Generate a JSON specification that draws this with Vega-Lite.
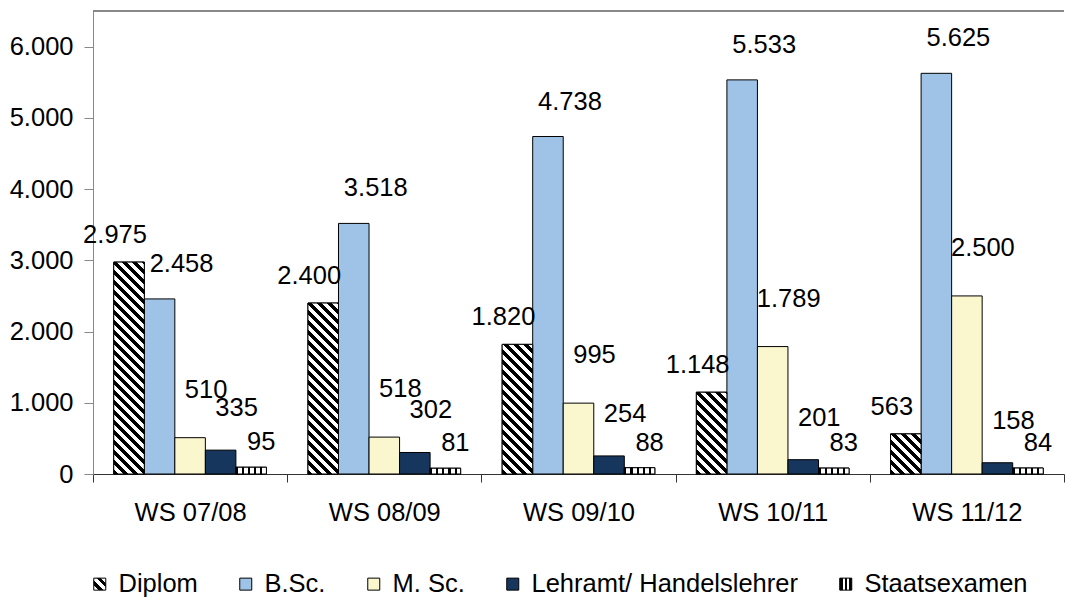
{
  "$schema": "https://vega.github.io/schema/vega-lite/v6.json",
  "width": 971,
  "height": 463,
  "autosize": "none",
  "padding": {"left": 93, "top": 11, "right": 1, "bottom": 125},
  "background": "white",
  "config": {
    "locale": {"number": {"decimal": ",", "thousands": ".", "grouping": [3], "currency": ["", " €"]}},
    "view": {"stroke": null},
    "font": "Liberation Sans",
    "axis": {"labelFont": "Liberation Sans", "labelFontSize": 25.5, "labelColor": "#000", "grid": false, "title": null}
  },
  "params": [
    {"name": "hatch", "value": [
      {"offset": 0, "color": "#000"}, {"offset": 0.02, "color": "#000"}, {"offset": 0.02, "color": "#fff"}, {"offset": 0.04, "color": "#fff"},
      {"offset": 0.04, "color": "#000"}, {"offset": 0.06, "color": "#000"}, {"offset": 0.06, "color": "#fff"}, {"offset": 0.08, "color": "#fff"},
      {"offset": 0.08, "color": "#000"}, {"offset": 0.10, "color": "#000"}, {"offset": 0.10, "color": "#fff"}, {"offset": 0.12, "color": "#fff"},
      {"offset": 0.12, "color": "#000"}, {"offset": 0.14, "color": "#000"}, {"offset": 0.14, "color": "#fff"}, {"offset": 0.16, "color": "#fff"},
      {"offset": 0.16, "color": "#000"}, {"offset": 0.18, "color": "#000"}, {"offset": 0.18, "color": "#fff"}, {"offset": 0.20, "color": "#fff"},
      {"offset": 0.20, "color": "#000"}, {"offset": 0.22, "color": "#000"}, {"offset": 0.22, "color": "#fff"}, {"offset": 0.24, "color": "#fff"},
      {"offset": 0.24, "color": "#000"}, {"offset": 0.26, "color": "#000"}, {"offset": 0.26, "color": "#fff"}, {"offset": 0.28, "color": "#fff"},
      {"offset": 0.28, "color": "#000"}, {"offset": 0.30, "color": "#000"}, {"offset": 0.30, "color": "#fff"}, {"offset": 0.32, "color": "#fff"},
      {"offset": 0.32, "color": "#000"}, {"offset": 0.34, "color": "#000"}, {"offset": 0.34, "color": "#fff"}, {"offset": 0.36, "color": "#fff"},
      {"offset": 0.36, "color": "#000"}, {"offset": 0.38, "color": "#000"}, {"offset": 0.38, "color": "#fff"}, {"offset": 0.40, "color": "#fff"},
      {"offset": 0.40, "color": "#000"}, {"offset": 0.42, "color": "#000"}, {"offset": 0.42, "color": "#fff"}, {"offset": 0.44, "color": "#fff"},
      {"offset": 0.44, "color": "#000"}, {"offset": 0.46, "color": "#000"}, {"offset": 0.46, "color": "#fff"}, {"offset": 0.48, "color": "#fff"},
      {"offset": 0.48, "color": "#000"}, {"offset": 0.50, "color": "#000"}, {"offset": 0.50, "color": "#fff"}, {"offset": 0.52, "color": "#fff"},
      {"offset": 0.52, "color": "#000"}, {"offset": 0.54, "color": "#000"}, {"offset": 0.54, "color": "#fff"}, {"offset": 0.56, "color": "#fff"},
      {"offset": 0.56, "color": "#000"}, {"offset": 0.58, "color": "#000"}, {"offset": 0.58, "color": "#fff"}, {"offset": 0.60, "color": "#fff"},
      {"offset": 0.60, "color": "#000"}, {"offset": 0.62, "color": "#000"}, {"offset": 0.62, "color": "#fff"}, {"offset": 0.64, "color": "#fff"},
      {"offset": 0.64, "color": "#000"}, {"offset": 0.66, "color": "#000"}, {"offset": 0.66, "color": "#fff"}, {"offset": 0.68, "color": "#fff"},
      {"offset": 0.68, "color": "#000"}, {"offset": 0.70, "color": "#000"}, {"offset": 0.70, "color": "#fff"}, {"offset": 0.72, "color": "#fff"},
      {"offset": 0.72, "color": "#000"}, {"offset": 0.74, "color": "#000"}, {"offset": 0.74, "color": "#fff"}, {"offset": 0.76, "color": "#fff"},
      {"offset": 0.76, "color": "#000"}, {"offset": 0.78, "color": "#000"}, {"offset": 0.78, "color": "#fff"}, {"offset": 0.80, "color": "#fff"},
      {"offset": 0.80, "color": "#000"}, {"offset": 0.82, "color": "#000"}, {"offset": 0.82, "color": "#fff"}, {"offset": 0.84, "color": "#fff"},
      {"offset": 0.84, "color": "#000"}, {"offset": 0.86, "color": "#000"}, {"offset": 0.86, "color": "#fff"}, {"offset": 0.88, "color": "#fff"},
      {"offset": 0.88, "color": "#000"}, {"offset": 0.90, "color": "#000"}, {"offset": 0.90, "color": "#fff"}, {"offset": 0.92, "color": "#fff"},
      {"offset": 0.92, "color": "#000"}, {"offset": 0.94, "color": "#000"}, {"offset": 0.94, "color": "#fff"}, {"offset": 0.96, "color": "#fff"},
      {"offset": 0.96, "color": "#000"}, {"offset": 0.98, "color": "#000"}, {"offset": 0.98, "color": "#fff"}, {"offset": 1, "color": "#fff"}
    ]},
    {"name": "hatchLegend", "value": [
      {"offset": 0, "color": "#fff"}, {"offset": 0.2, "color": "#fff"}, {"offset": 0.2, "color": "#000"}, {"offset": 0.4, "color": "#000"},
      {"offset": 0.4, "color": "#fff"}, {"offset": 0.6, "color": "#fff"}, {"offset": 0.6, "color": "#000"}, {"offset": 0.8, "color": "#000"},
      {"offset": 0.8, "color": "#fff"}, {"offset": 1, "color": "#fff"}
    ]},
    {"name": "stripeLegend", "value": [
      {"offset": 0, "color": "#000"}, {"offset": 0.25, "color": "#000"}, {"offset": 0.25, "color": "#fff"}, {"offset": 0.42, "color": "#fff"},
      {"offset": 0.42, "color": "#000"}, {"offset": 0.58, "color": "#000"}, {"offset": 0.58, "color": "#fff"}, {"offset": 0.75, "color": "#fff"},
      {"offset": 0.75, "color": "#000"}, {"offset": 1, "color": "#000"}
    ]}
  ],
  "data": {"values": [
    {"ws": "WS 07/08", "type": "Diplom", "n": 2975},
    {"ws": "WS 07/08", "type": "B.Sc.", "n": 2458},
    {"ws": "WS 07/08", "type": "M. Sc.", "n": 510},
    {"ws": "WS 07/08", "type": "Lehramt/ Handelslehrer", "n": 335},
    {"ws": "WS 07/08", "type": "Staatsexamen", "n": 95},
    {"ws": "WS 08/09", "type": "Diplom", "n": 2400},
    {"ws": "WS 08/09", "type": "B.Sc.", "n": 3518},
    {"ws": "WS 08/09", "type": "M. Sc.", "n": 518},
    {"ws": "WS 08/09", "type": "Lehramt/ Handelslehrer", "n": 302},
    {"ws": "WS 08/09", "type": "Staatsexamen", "n": 81},
    {"ws": "WS 09/10", "type": "Diplom", "n": 1820},
    {"ws": "WS 09/10", "type": "B.Sc.", "n": 4738},
    {"ws": "WS 09/10", "type": "M. Sc.", "n": 995},
    {"ws": "WS 09/10", "type": "Lehramt/ Handelslehrer", "n": 254},
    {"ws": "WS 09/10", "type": "Staatsexamen", "n": 88},
    {"ws": "WS 10/11", "type": "Diplom", "n": 1148},
    {"ws": "WS 10/11", "type": "B.Sc.", "n": 5533},
    {"ws": "WS 10/11", "type": "M. Sc.", "n": 1789},
    {"ws": "WS 10/11", "type": "Lehramt/ Handelslehrer", "n": 201},
    {"ws": "WS 10/11", "type": "Staatsexamen", "n": 83},
    {"ws": "WS 11/12", "type": "Diplom", "n": 563},
    {"ws": "WS 11/12", "type": "B.Sc.", "n": 5625},
    {"ws": "WS 11/12", "type": "M. Sc.", "n": 2500},
    {"ws": "WS 11/12", "type": "Lehramt/ Handelslehrer", "n": 158},
    {"ws": "WS 11/12", "type": "Staatsexamen", "n": 84}
  ]},
  "layer": [
    {
      "encoding": {
        "x": {"field": "ws", "type": "nominal", "sort": null,
              "scale": {"paddingInner": 0, "paddingOuter": 0},
              "axis": {"tickBand": "extent", "tickSize": 8, "labelPadding": 18, "domainColor": "#333", "tickColor": "#333", "labelAngle": 0, "title": null}},
        "xOffset": {"field": "type", "type": "nominal", "sort": null,
              "scale": {"domain": ["Diplom", "B.Sc.", "M. Sc.", "Lehramt/ Handelslehrer", "Staatsexamen"], "paddingInner": 0, "paddingOuter": 0.68}},
        "y": {"field": "n", "type": "quantitative", "stack": null,
              "scale": {"domain": [0, 6500], "nice": false},
              "axis": {"values": [0, 1000, 2000, 3000, 4000, 5000, 6000], "format": ",.0f", "tickSize": 9, "labelPadding": 11, "domainColor": "#888", "tickColor": "#888", "title": null}}
      },
      "layer": [
        {
          "mark": {"type": "bar", "stroke": "#000", "strokeWidth": 1},
          "encoding": {
            "color": {"field": "type", "type": "nominal", "sort": null,
              "scale": {"domain": ["Diplom", "B.Sc.", "M. Sc.", "Lehramt/ Handelslehrer", "Staatsexamen"],
                        "range": [
                          {"expr": "{gradient: 'linear', x1: 0, y1: 1, x2: 1, y2: 0, stops: hatchLegend}"},
                          "#9FC3E7", "#FAF6CE", "#17365D",
                          {"expr": "{gradient: 'linear', x1: 0, y1: 0, x2: 1, y2: 0, stops: stripeLegend}"}
                        ]},
              "legend": {
                "orient": "none", "legendX": -6, "legendY": 560, "direction": "horizontal", "columns": 5,
                "title": null, "symbolType": "square", "symbolSize": 144, "symbolStrokeColor": "#000", "symbolStrokeWidth": 1,
                "labelFont": "Liberation Sans", "labelFontSize": 25.5, "labelColor": "#000", "labelOffset": 6, "labelLimit": 500, "columnPadding": 35, "padding": 0,
                "encode": {"symbols": {"update": {"stroke": {"value": "#000"}, "strokeWidth": {"value": 1}}}}
              }}
          }
        },
        {
          "transform": [{"filter": "datum.type === 'Diplom'"}],
          "mark": {"type": "bar", "stroke": "#000", "strokeWidth": 1,
            "fill": {"expr": "{gradient: 'linear', x1: 0, y1: 1, x2: 250 * bandwidth('xOffset') / (pow(bandwidth('xOffset'), 2) + pow(scale('y', 0) - scale('y', datum.n), 2)), y2: 1 - 250 * (scale('y', 0) - scale('y', datum.n)) / (pow(bandwidth('xOffset'), 2) + pow(scale('y', 0) - scale('y', datum.n), 2)), stops: hatch}"}}
        },
        {
          "transform": [{"filter": "datum.type === 'Staatsexamen'"}],
          "mark": {"type": "bar", "stroke": "#000", "strokeWidth": 1,
            "fill": {"gradient": "linear", "x1": 0, "y1": 0, "x2": 1, "y2": 0, "stops": [
              {"offset": 0, "color": "#000"}, {"offset": 0.07, "color": "#000"}, {"offset": 0.07, "color": "#fff"}, {"offset": 0.2, "color": "#fff"},
              {"offset": 0.2, "color": "#000"}, {"offset": 0.27, "color": "#000"}, {"offset": 0.27, "color": "#fff"}, {"offset": 0.4, "color": "#fff"},
              {"offset": 0.4, "color": "#000"}, {"offset": 0.47, "color": "#000"}, {"offset": 0.47, "color": "#fff"}, {"offset": 0.6, "color": "#fff"},
              {"offset": 0.6, "color": "#000"}, {"offset": 0.67, "color": "#000"}, {"offset": 0.67, "color": "#fff"}, {"offset": 0.8, "color": "#fff"},
              {"offset": 0.8, "color": "#000"}, {"offset": 0.87, "color": "#000"}, {"offset": 0.87, "color": "#fff"}, {"offset": 1, "color": "#fff"}
            ]}}
        },
        {
          "mark": {"type": "text", "font": "Liberation Sans", "fontSize": 25.5, "color": "#000", "align": "center", "baseline": "middle",
            "dx": {"expr": "datum.type === 'Diplom' ? -14 : datum.type === 'B.Sc.' ? 22 : datum.type === 'M. Sc.' ? 16 : datum.type === 'Staatsexamen' ? 10 : 16"},
            "dy": {"expr": "datum.type === 'Diplom' ? -27 : datum.type === 'B.Sc.' ? -35 : datum.type === 'M. Sc.' ? -48 : datum.type === 'Staatsexamen' ? -25 : -42"}},
          "encoding": {"text": {"field": "n", "type": "quantitative", "format": ","}}
        }
      ]
    },
    {
      "mark": {"type": "rule", "color": "#888", "strokeWidth": 1},
      "encoding": {"y": {"datum": 6500, "type": "quantitative",
        "axis": {"values": [0, 1000, 2000, 3000, 4000, 5000, 6000], "format": ",.0f", "tickSize": 9, "labelPadding": 11, "domainColor": "#888", "tickColor": "#888", "title": null}}}
    }
  ]
}
